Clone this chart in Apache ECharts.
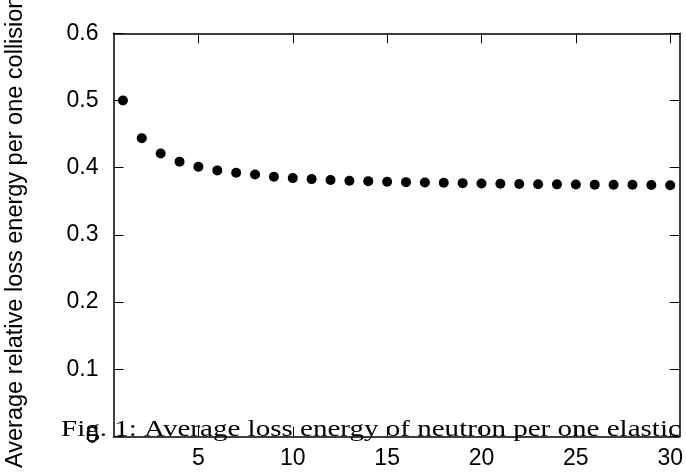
<!DOCTYPE html>
<html>
<head>
<meta charset="utf-8">
<script src="https://cdn.jsdelivr.net/npm/echarts@6/dist/echarts.min.js"></script>
<style>
  html, body { margin: 0; padding: 0; background: #fff; }
  #main { width: 686px; height: 472px; }
</style>
</head>
<body>
<div id="main"></div>
<script>
// mass number of the target nucleus
let massNumbers = [1, 2, 3, 4, 5, 6, 7, 8, 9, 10, 11, 12, 13, 14, 15,
    16, 17, 18, 19, 20, 21, 22, 23, 24, 25, 26, 27, 28, 29, 30]
// average relative energy loss per collision
let lossValues = [0.500, 0.444, 0.421, 0.409, 0.4015, 0.396, 0.3926, 0.390, 0.3866, 0.3845,
    0.383, 0.3817, 0.3806, 0.380, 0.379, 0.3785, 0.378, 0.3775, 0.377, 0.3765,
    0.376, 0.3758, 0.3755, 0.3752, 0.375, 0.3748, 0.3746, 0.3745, 0.3743, 0.374]
let xTicks = [5, 10, 15, 20, 25, 30]
let yTicks = [0, 0.1, 0.2, 0.3, 0.4, 0.5, 0.6]

let myChart = echarts.init(document.getElementById('main'))

let sansFont = '"Liberation Sans", Arial, sans-serif'
let lineStyle = { color: '#000', width: 1.5 }
let tick = { show: true, inside: true, length: 10, lineStyle: { color: '#000', width: 1 } }

let option = {
    animation: false,
    grid: { left: 113.5, right: 2.5, top: 33.3, bottom: 35.5, containLabel: false },
    xAxis: [
        {
            type: 'value', min: 0.5, max: 30.5, position: 'bottom',
            axisLine: { show: true, onZero: false, lineStyle: lineStyle },
            axisTick: Object.assign({ customValues: xTicks }, tick),
            axisLabel: { customValues: xTicks, color: '#000', fontSize: 23, fontFamily: sansFont, margin: 11 },
            splitLine: { show: false }
        },
        {
            type: 'value', min: 0.5, max: 30.5, position: 'top',
            axisLine: { show: true, onZero: false, lineStyle: lineStyle },
            axisTick: Object.assign({ customValues: xTicks }, tick),
            axisLabel: { show: false },
            splitLine: { show: false }
        }
    ],
    yAxis: [
        {
            type: 'value', min: 0, max: 0.6, position: 'left',
            axisLine: { show: true, onZero: false, lineStyle: lineStyle },
            axisTick: Object.assign({ customValues: yTicks }, tick),
            axisLabel: { customValues: yTicks, color: '#000', fontSize: 23, fontFamily: sansFont, margin: 15 },
            splitLine: { show: false }
        },
        {
            type: 'value', min: 0, max: 0.6, position: 'right',
            axisLine: { show: true, onZero: false, lineStyle: lineStyle },
            axisTick: Object.assign({ customValues: yTicks }, tick),
            axisLabel: { show: false },
            splitLine: { show: false }
        }
    ],
    graphic: [
        {
            type: 'text', x: 16, y: 468, rotation: Math.PI / 2,
            style: {
                text: 'Average relative loss energy per one collision',
                fill: '#000', font: '23.5px ' + sansFont,
                textAlign: 'left', textVerticalAlign: 'middle'
            }
        },
        {
            type: 'text', x: 61, y: 442, z: 100, scaleX: 1.21,
            style: {
                text: 'Fig. 1: Average loss energy of neutron per one elastic',
                fill: '#000', font: '24px "Liberation Serif", "DejaVu Serif", serif',
                textAlign: 'left', textVerticalAlign: 'bottom'
            }
        }
    ],
    series: [
        {
            type: 'scatter',
            symbol: 'circle',
            symbolSize: 10,
            itemStyle: { color: '#000', opacity: 1 },
            data: massNumbers.map((m, i) => [m, lossValues[i]])
        }
    ]
}

myChart.setOption(option)
</script>
</body>
</html>
